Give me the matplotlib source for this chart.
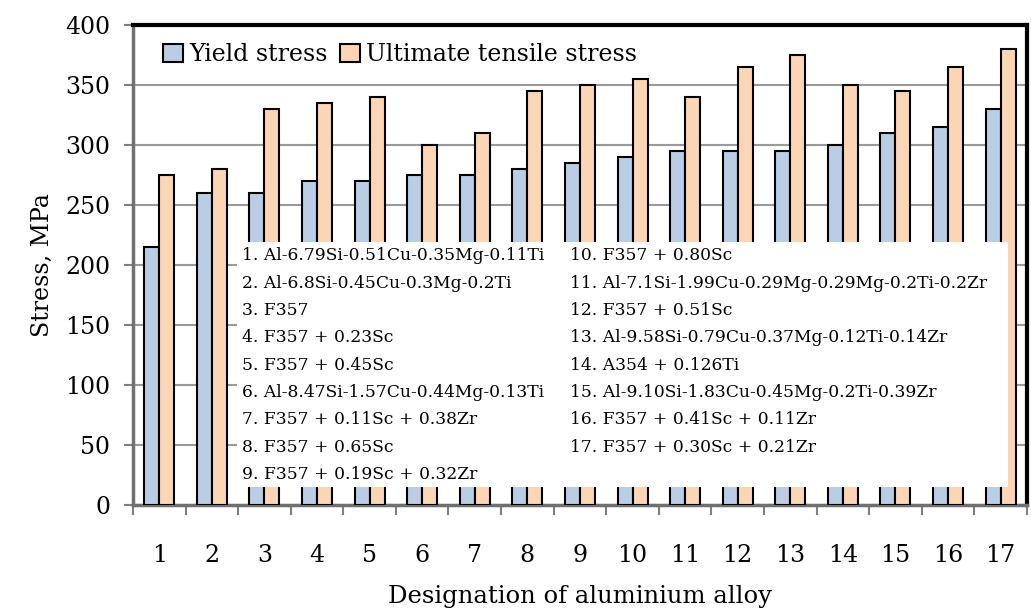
import matplotlib
matplotlib.use("Agg")
import matplotlib.pyplot as plt
from matplotlib.patches import Rectangle
import numpy as np

alloys = list(range(1, 18))
yield_stress = [215, 260, 260, 270, 270, 275, 275, 280, 285, 290, 295, 295, 295, 300, 310, 315, 330]
uts = [275, 280, 330, 335, 340, 300, 310, 345, 350, 355, 340, 365, 375, 350, 345, 365, 380]

names_left = [
    "1. Al-6.79Si-0.51Cu-0.35Mg-0.11Ti",
    "2. Al-6.8Si-0.45Cu-0.3Mg-0.2Ti",
    "3. F357",
    "4. F357 + 0.23Sc",
    "5. F357 + 0.45Sc",
    "6. Al-8.47Si-1.57Cu-0.44Mg-0.13Ti",
    "7. F357 + 0.11Sc + 0.38Zr",
    "8. F357 + 0.65Sc",
    "9. F357 + 0.19Sc + 0.32Zr",
]
names_right = [
    "10. F357 + 0.80Sc",
    "11. Al-7.1Si-1.99Cu-0.29Mg-0.29Mg-0.2Ti-0.2Zr",
    "12. F357 + 0.51Sc",
    "13. Al-9.58Si-0.79Cu-0.37Mg-0.12Ti-0.14Zr",
    "14. A354 + 0.126Ti",
    "15. Al-9.10Si-1.83Cu-0.45Mg-0.2Ti-0.39Zr",
    "16. F357 + 0.41Sc + 0.11Zr",
    "17. F357 + 0.30Sc + 0.21Zr",
]

plt.rcParams["font.family"] = "DejaVu Serif"

fig = plt.figure(figsize=(10.31, 6.10), dpi=100)
ax = fig.add_axes([0.129, 0.172, 0.867, 0.787])

x = np.array(alloys)
w = 0.285
ax.bar(x - w / 2, yield_stress, w, color="#B9CDE5", edgecolor="black", linewidth=1.5,
       label="Yield stress", zorder=3)
ax.bar(x + w / 2, uts, w, color="#FCD5B5", edgecolor="black", linewidth=1.5,
       label="Ultimate tensile stress", zorder=3)

ax.set_xlim(0.5, 17.5)
ax.set_ylim(0, 400)
ax.set_yticks(range(0, 401, 50))
ax.set_xticks(x)
ax.set_xticklabels([str(a) for a in alloys], fontsize=17)
ax.set_xticks(np.arange(0.5, 18, 1), minor=True)
ax.tick_params(axis="x", which="major", length=0, pad=28)
ax.tick_params(axis="x", which="minor", length=7, width=1.5, color="#808080", direction="out")
ax.tick_params(axis="y", length=6.5, width=1.5, color="#808080", labelsize=17, pad=10)
ax.grid(axis="y", color="#9a9a9a", linewidth=1.5, zorder=0)

for s in ["top", "right"]:
    ax.spines[s].set_color("black")
    ax.spines[s].set_linewidth(3)
for s in ["left", "bottom"]:
    ax.spines[s].set_color("#707070")
    ax.spines[s].set_linewidth(2.5)

ax.set_xlabel("Designation of aluminium alloy", fontsize=17.5, labelpad=13)
ax.set_ylabel("Stress, MPa", fontsize=17, labelpad=8)

ax.legend(loc="upper left", bbox_to_anchor=(0.034, 0.962), ncol=2, frameon=False,
          fontsize=17, handlelength=0.85, handleheight=0.85, handletextpad=0.25,
          columnspacing=0.5, borderpad=0, borderaxespad=0)

# white box with the alloy list
ax.add_patch(Rectangle((0.116, 0.0375), 0.863, 0.51, transform=ax.transAxes,
                       facecolor="white", edgecolor="none", zorder=4))
row_h = 0.0569
for i, t in enumerate(names_left):
    ax.text(0.122, 0.519 - i * row_h, t, transform=ax.transAxes, fontsize=12.3,
            va="center", ha="left", zorder=5)
for i, t in enumerate(names_right):
    ax.text(0.489, 0.519 - i * row_h, t, transform=ax.transAxes, fontsize=12.3,
            va="center", ha="left", zorder=5)

fig.savefig("out.png", dpi=100)
